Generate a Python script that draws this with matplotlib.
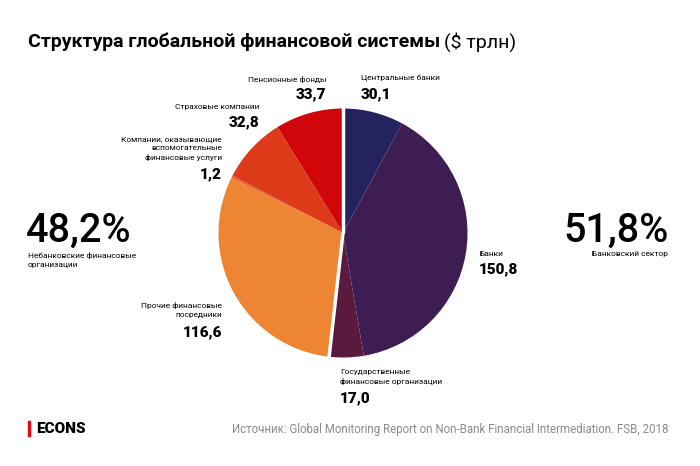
import numpy as np
import matplotlib.pyplot as plt

plt.rcParams['font.family'] = ['Roboto', 'DejaVu Sans']

# данные ($ трлн), по часовой стрелке от 12 часов
labels = ["Центральные банки", "Банки", "Государственные\nфинансовые организации",
          "Прочие финансовые\nпосредники", "Компании, оказывающие\nвспомогательные\nфинансовые услуги",
          "Страховые компании", "Пенсионные фонды"]
values = [30.1, 150.8, 17.0, 116.6, 1.2, 32.8, 33.7]
colors = ["#23235f", "#3d1d52", "#5a1a3e", "#ee8533", "#e8632b", "#dc3a19", "#d0060b"]
bank_share = "51,8%"
nonbank_share = "48,2%"

W, H = 700, 466
fig = plt.figure(figsize=(7, 4.66), dpi=100)

def fx(x):
    return x / W

def fy(y):
    return 1 - y / H

# пирог
cx, cy, r = 343, 233, 127
ax = fig.add_axes([fx(cx - r), fy(cy + r), 2 * r / W, 2 * r / H])
ax.pie(values, colors=colors, startangle=90, counterclock=False, radius=1,
       wedgeprops=dict(linewidth=0))
ax.set_xlim(-1.02, 1.02)
ax.set_ylim(-1.02, 1.02)
ax.set_aspect('auto')
ax.axis('off')

# белые разделители между банковским и небанковским секторами
bank_total = sum(values[:3])
for frac in [0, bank_total / sum(values)]:
    a = np.deg2rad(90 - frac * 360)
    ax.plot([0, 1.05 * np.cos(a)], [0, 1.05 * np.sin(a)], color='white', lw=2.5,
            solid_capstyle='butt')

# заголовок
t = fig.text(fx(28), fy(42), "Структура глобальной финансовой системы", fontsize=14,
             fontweight='bold', va='center', ha='left')
fig.canvas.draw()
bb = t.get_window_extent()
fig.text(bb.x1 / W + fx(4), fy(42), "($ трлн)", fontsize=14, va='center', ha='left')

small = 6
big = 11

def label(x, y, name, val, ha, gap=15):
    n = name.count("\n")
    fig.text(fx(x), fy(y), name, fontsize=small, ha=ha, va='center', linespacing=1.4,
             multialignment=ha)
    fig.text(fx(x), fy(y + n * 5.5 + gap), f"{val:.1f}".replace(".", ","), fontsize=big,
             fontweight='black', ha=ha, va='center')

label(361, 79, labels[0], values[0], 'left')
label(479, 254, labels[1], values[1], 'left')
label(340, 377, labels[2], values[2], 'left', gap=16)
label(222, 310, labels[3], values[3], 'right', gap=17)
label(222, 149, labels[4], values[4], 'right', gap=14)
label(259, 107, labels[5], values[5], 'right')
label(326, 79, labels[6], values[6], 'right')

# доли секторов
fig.text(fx(26), fy(231), nonbank_share, fontsize=28.5, fontweight='medium',
         ha='left', va='center')
fig.text(fx(28), fy(260), "Небанковские финансовые\nорганизации", fontsize=small,
         ha='left', va='center', linespacing=1.4)
fig.text(fx(669), fy(231), bank_share, fontsize=28.5, fontweight='medium',
         ha='right', va='center')
fig.text(fx(668), fy(254), "Банковский сектор", fontsize=small, ha='right', va='center')

# подвал
fig.patches.append(plt.Rectangle((fx(28), fy(436)), 2.2 / W, 15 / H, color='#e30613',
                                 transform=fig.transFigure, figure=fig))
fig.text(fx(36), fy(429), "ECONS", fontsize=11, fontweight='black', ha='left', va='center')
fig.text(fx(668), fy(429),
         "Источник: Global Monitoring Report on Non-Bank Financial Intermediation. FSB, 2018",
         fontsize=8.3, color='#8a8a8a', ha='right', va='center')

fig.savefig("out.png", dpi=100, facecolor='white')
